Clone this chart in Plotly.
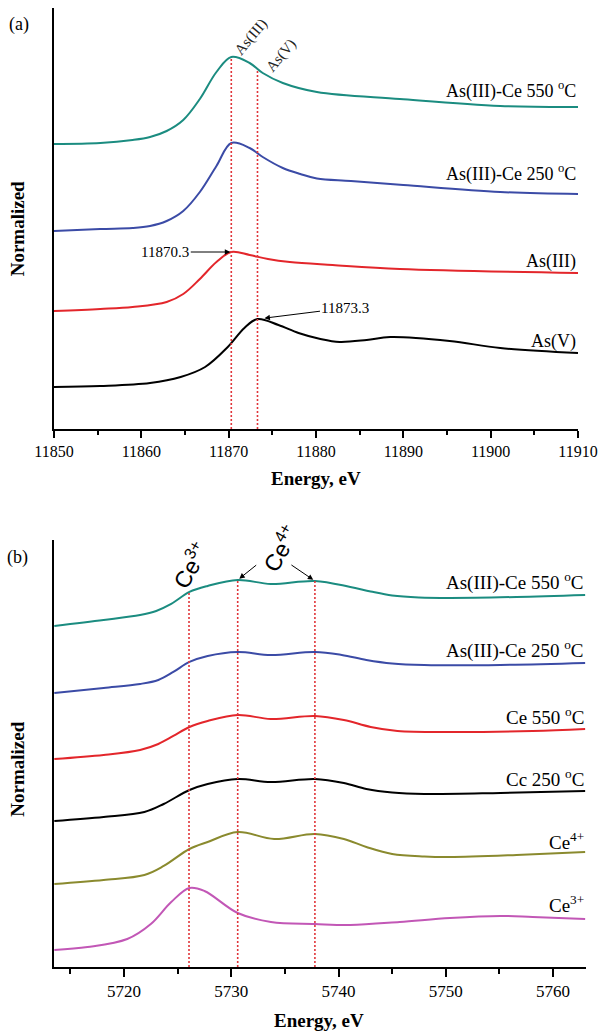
import numpy as np
import plotly.graph_objects as go

# ---------------- (a) As K-edge XANES ----------------
as_range = [11850, 11910]

as_ce550_e = [11850.0, 11855.3, 11859.0, 11861.0, 11862.9, 11864.8, 11866.7, 11868.6, 11870.3,
              11872.4, 11873.9, 11876.2, 11880.1, 11889.6, 11901.1, 11910.0]
as_ce550_mu = [2.85, 2.86, 2.89, 2.92, 2.98, 3.09, 3.30, 3.57, 3.72,
               3.66, 3.56, 3.46, 3.37, 3.30, 3.23, 3.22]

as_ce250_e = [11850.0, 11855.3, 11859.0, 11861.0, 11862.9, 11864.8, 11866.7, 11868.6, 11870.3,
              11872.4, 11873.9, 11876.2, 11878.2, 11880.1, 11884.0, 11890.0, 11901.1, 11910.0]
as_ce250_mu = [1.98, 2.00, 2.01, 2.03, 2.08, 2.18, 2.37, 2.63, 2.86,
               2.81, 2.72, 2.61, 2.55, 2.505, 2.48, 2.44, 2.37, 2.35]

as3_e = [11850.0, 11855.3, 11859.0, 11862.9, 11864.8, 11866.7, 11868.6, 11870.3, 11872.4,
         11874.5, 11877.0, 11881.9, 11889.6, 11910.0]
as3_mu = [1.18, 1.20, 1.22, 1.27, 1.35, 1.50, 1.67, 1.77, 1.74,
          1.70, 1.67, 1.64, 1.60, 1.56]

as5_e = [11850.0, 11855.3, 11861.0, 11864.5, 11867.3, 11869.9, 11871.8, 11873.3, 11875.7,
         11878.0, 11880.5, 11882.7, 11885.8, 11888.5, 11895.3, 11901.1, 11910.0]
as5_mu = [0.42, 0.43, 0.46, 0.52, 0.62, 0.82, 1.01, 1.10, 1.04,
          0.96, 0.90, 0.87, 0.89, 0.92, 0.88, 0.81, 0.76]

as_markers = [11870.3, 11873.3]          # As(III), As(V) white-line energies
as_marker_names = ["As(III)", "As(V)"]

# ---------------- (b) Ce L3-edge XANES ----------------
ce_range = [5713.47, 5763.08]

asce550_e = [5713.5, 5718.1, 5721.5, 5723.0, 5724.4, 5726.1, 5727.8, 5730.6, 5733.7, 5737.8,
             5741.1, 5743.0, 5745.0, 5747.5, 5750.4, 5756.6, 5763.0]
asce550_mu = [3.41, 3.47, 3.52, 3.56, 3.63, 3.75, 3.81, 3.87, 3.83, 3.86,
              3.80, 3.755, 3.715, 3.695, 3.69, 3.70, 3.72]

asce250_e = [5713.5, 5718.1, 5721.5, 5723.2, 5724.6, 5726.1, 5727.8, 5730.6, 5733.7, 5737.8,
             5740.3, 5742.6, 5745.0, 5748.0, 5755.1, 5763.0]
asce250_mu = [2.74, 2.79, 2.83, 2.87, 2.95, 3.05, 3.11, 3.15, 3.12, 3.15,
              3.12, 3.07, 3.035, 3.02, 3.02, 3.04]

ce550_e = [5713.5, 5718.1, 5721.5, 5723.2, 5724.6, 5726.1, 5727.8, 5730.6, 5733.7, 5737.8,
           5740.5, 5743.0, 5745.5, 5750.4, 5758.1, 5763.0]
ce550_mu = [2.08, 2.12, 2.17, 2.23, 2.31, 2.40, 2.46, 2.52, 2.48, 2.51,
            2.47, 2.40, 2.36, 2.35, 2.36, 2.38]

ce250_e = [5713.5, 5718.1, 5721.9, 5723.7, 5726.1, 5727.8, 5730.6, 5733.7, 5737.8,
           5740.5, 5742.6, 5745.0, 5748.0, 5755.1, 5763.0]
ce250_mu = [1.46, 1.50, 1.55, 1.63, 1.77, 1.83, 1.88, 1.85, 1.88,
            1.84, 1.78, 1.745, 1.73, 1.74, 1.76]

ce4_e = [5713.5, 5718.1, 5721.9, 5723.7, 5726.1, 5727.8, 5730.6, 5734.0, 5737.8,
         5740.5, 5742.6, 5745.0, 5748.0, 5750.4, 5756.6, 5763.0]
ce4_mu = [0.83, 0.87, 0.92, 1.01, 1.18, 1.25, 1.35, 1.28, 1.33,
          1.28, 1.20, 1.13, 1.105, 1.10, 1.12, 1.15]

ce3_e = [5713.5, 5716.6, 5720.3, 5722.5, 5724.4, 5726.1, 5727.5, 5730.6, 5733.7,
         5737.8, 5741.1, 5745.7, 5750.4, 5755.1, 5758.1, 5763.0]
ce3_mu = [0.17, 0.20, 0.28, 0.43, 0.65, 0.79, 0.76, 0.54, 0.45,
          0.43, 0.42, 0.45, 0.49, 0.51, 0.50, 0.48]

ce_markers = [5726.06, 5730.6, 5737.8]   # Ce3+ shoulder, two Ce4+ peaks

TEAL = "#1b8c80"
BLUE = "#3b4ba6"
RED = "#e3262b"
BLACK = "#000000"
OLIVE = "#8a8a2e"
MAGENTA = "#c257b6"
DOT_RED = "#e0353a"

SERIF = "Liberation Serif"
SANS = "Liberation Sans"

top_series = [
    (as_ce550_e, as_ce550_mu, TEAL, "As(III)-Ce 550 <sup>o</sup>C"),
    (as_ce250_e, as_ce250_mu, BLUE, "As(III)-Ce 250 <sup>o</sup>C"),
    (as3_e, as3_mu, RED, "As(III)"),
    (as5_e, as5_mu, BLACK, "As(V)"),
]
bottom_series = [
    (asce550_e, asce550_mu, TEAL, "As(III)-Ce 550 <sup>o</sup>C"),
    (asce250_e, asce250_mu, BLUE, "As(III)-Ce 250 <sup>o</sup>C"),
    (ce550_e, ce550_mu, RED, "Ce 550 <sup>o</sup>C"),
    (ce250_e, ce250_mu, BLACK, "Cc 250 <sup>o</sup>C"),
    (ce4_e, ce4_mu, OLIVE, "Ce<sup>4+</sup>"),
    (ce3_e, ce3_mu, MAGENTA, "Ce<sup>3+</sup>"),
]
top_label_y = [3.39, 2.56, 1.68, 0.88]
bottom_label_y = [3.85, 3.17, 2.51, 1.89, 1.26, 0.63]

fig = go.Figure()

def add_curve(e, mu, color, xa, ya):
    fig.add_trace(go.Scatter(
        x=e, y=mu, mode="lines", xaxis=xa, yaxis=ya,
        line=dict(color=color, width=2, shape="spline", smoothing=1.0),
        showlegend=False, hoverinfo="skip"))

annotations = []
shapes = []

for (e, mu, color, name), ly in zip(top_series, top_label_y):
    add_curve(e, mu, color, "x", "y")
    annotations.append(dict(x=as_range[1], y=ly, xref="x", yref="y", text=name,
                            xanchor="right", yanchor="middle", showarrow=False,
                            font=dict(family=SERIF, size=18, color="black")))

for (e, mu, color, name), ly in zip(bottom_series, bottom_label_y):
    add_curve(e, mu, color, "x2", "y2")
    annotations.append(dict(x=ce_range[1], y=ly, xref="x2", yref="y2", text=name,
                            xanchor="right", yanchor="middle", showarrow=False,
                            font=dict(family=SERIF, size=19, color="black")))

# dotted reference lines, from the axis up to the top spectrum
for m in as_markers:
    shapes.append(dict(type="line", xref="x", yref="y", x0=m, x1=m, y0=0,
                       y1=float(np.interp(m, as_ce550_e, as_ce550_mu)),
                       line=dict(color=DOT_RED, width=1.6, dash="2px,2px")))
for m in ce_markers:
    shapes.append(dict(type="line", xref="x2", yref="y2", x0=m, x1=m, y0=0,
                       y1=float(np.interp(m, asce550_e, asce550_mu)),
                       line=dict(color=DOT_RED, width=1.6, dash="2px,2px")))

# rotated species labels above the dotted lines (a)
annotations.append(dict(x=11872.5, y=3.92, xref="x", yref="y", text=as_marker_names[0],
                        textangle=-50, showarrow=False, xanchor="center", yanchor="middle",
                        font=dict(family=SERIF, size=15, color="#222")))
annotations.append(dict(x=11876.0, y=3.74, xref="x", yref="y", text=as_marker_names[1],
                        textangle=-50, showarrow=False, xanchor="center", yanchor="middle",
                        font=dict(family=SERIF, size=15, color="#222")))

# peak energy call-outs (a)
annotations.append(dict(x=as_markers[0], y=float(np.interp(as_markers[0], as3_e, as3_mu)),
                        xref="x", yref="y", text=f"{as_markers[0]:.1f}",
                        showarrow=True, ax=-66, ay=0, standoff=1,
                        arrowhead=2, arrowsize=1.1, arrowwidth=1, arrowcolor="black",
                        font=dict(family=SERIF, size=15, color="black")))
annotations.append(dict(x=as_markers[1], y=float(np.interp(as_markers[1], as5_e, as5_mu)),
                        xref="x", yref="y", text=f"{as_markers[1]:.1f}",
                        showarrow=True, ax=88, ay=-11, standoff=7,
                        arrowhead=2, arrowsize=1.1, arrowwidth=1, arrowcolor="black",
                        font=dict(family=SERIF, size=15, color="black")))

# Ce oxidation-state labels (b)
annotations.append(dict(x=5726.15, y=4.02, xref="x2", yref="y2", text="Ce<sup>3+</sup>",
                        textangle=-60, showarrow=False, xanchor="center", yanchor="middle",
                        font=dict(family=SANS, size=23, color="black")))
annotations.append(dict(x=5734.55, y=4.19, xref="x2", yref="y2", text="Ce<sup>4+</sup>",
                        textangle=-60, showarrow=False, xanchor="center", yanchor="middle",
                        font=dict(family=SANS, size=23, color="black")))
for m, ax, ay in [(ce_markers[1], 20, -16), (ce_markers[2], -25, -17)]:
    annotations.append(dict(x=m, y=float(np.interp(m, asce550_e, asce550_mu)),
                            xref="x2", yref="y2", text="", showarrow=True,
                            ax=ax, ay=ay, standoff=2, arrowhead=2, arrowsize=1.1,
                            arrowwidth=1, arrowcolor="black"))

# panel letters, axis titles (paper coordinates, explicitly centred)
def paper_text(x, y, text, size, angle=0):
    return dict(x=x, y=y, xref="paper", yref="paper", text=text, showarrow=False,
                xanchor="center", yanchor="middle", textangle=angle,
                font=dict(family=SERIF, size=size, color="black"))

annotations += [
    paper_text(-0.0658, 0.9833, "(a)", 18),
    paper_text(-0.0677, 0.4275, "(b)", 18),
    paper_text(-0.0682, 0.770, "<b>Normalized</b>", 19, -90),
    paper_text(-0.0682, 0.2065, "<b>Normalized</b>", 19, -90),
    paper_text(0.4925, 0.5099, "<b>Energy, eV</b>", 19),
    paper_text(0.498, -0.0553, "<b>Energy, eV</b>", 19),
]

def xaxis_style(rng, domain, anchor, size, major_len, minor_len):
    return dict(domain=domain, anchor=anchor, range=rng, dtick=10, tickformat="d",
                automargin=False,
                showline=True, linecolor="black", linewidth=2, mirror=False,
                showgrid=False, zeroline=False,
                ticks="outside", ticklen=major_len, tickwidth=1.6, tickcolor="black",
                minor=dict(dtick=5, ticks="outside", ticklen=minor_len, tickwidth=1.6,
                           tickcolor="black", showgrid=False),
                tickfont=dict(family=SERIF, size=size, color="black"))

def yaxis_style(rng, domain, anchor):
    return dict(domain=domain, anchor=anchor, range=rng, showline=True, automargin=False,
                linecolor="black", linewidth=2, showgrid=False, zeroline=False,
                showticklabels=False, ticks="")

fig.update_layout(
    width=602, height=1032,
    margin=dict(l=54, r=16, t=8, b=65),
    font=dict(family=SERIF, color="black"),
    paper_bgcolor="white", plot_bgcolor="white",
    xaxis=xaxis_style(as_range, [0, 524 / 532], "y", 16, 7, 4),
    yaxis=yaxis_style([0, 4.21], [0.561, 1.0], "x"),
    xaxis2=xaxis_style(ce_range, [0, 1], "y2", 17, 8, 5),
    yaxis2=yaxis_style([0, 4.27], [0, 0.4453], "x2"),
    annotations=annotations,
    shapes=shapes,
    showlegend=False,
)

fig.write_html("out.html")
